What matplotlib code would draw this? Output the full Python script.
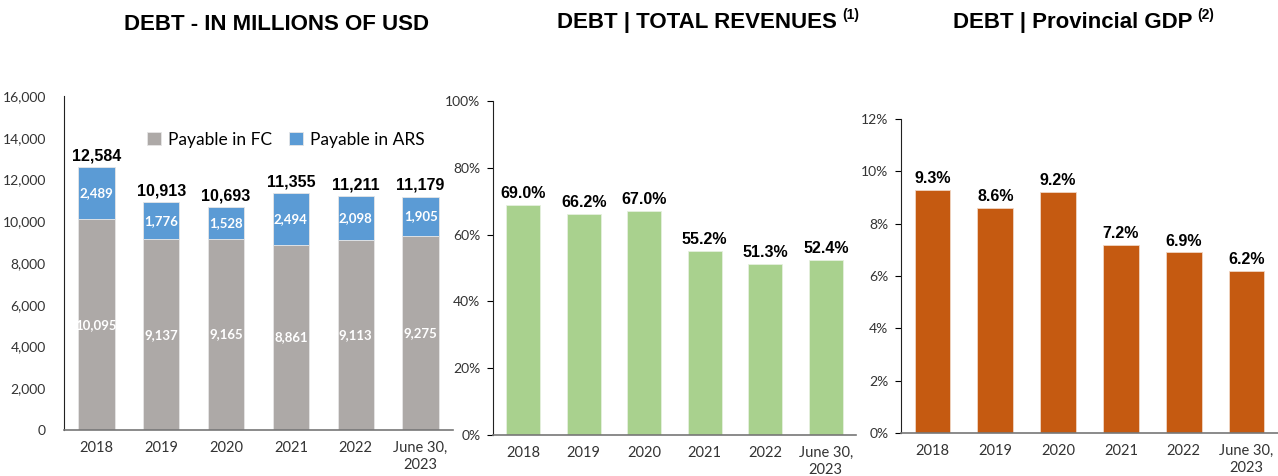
import matplotlib.pyplot as plt
import numpy as np

# Datos
categorias = ["2018", "2019", "2020", "2021", "2022", "June 30,\n2023"]
deuda_fc = [10095, 9137, 9165, 8861, 9113, 9275]
deuda_ars = [2489, 1776, 1528, 2494, 2098, 1905]
deuda_total = [12584, 10913, 10693, 11355, 11211, 11179]
deuda_ingresos = [69.0, 66.2, 67.0, 55.2, 51.3, 52.4]
deuda_pbg = [9.3, 8.6, 9.2, 7.2, 6.9, 6.2]

GRIS = "#ADA9A7"
AZUL = "#5B9BD5"
VERDE = "#A9D18E"
NARANJA = "#C55A11"
TICK_FONT = "Lato"
BOLD_FONT = "Liberation Sans"

W, H = 1278, 476
fig = plt.figure(figsize=(W / 100, H / 100), dpi=100)


def crear_ejes(x0, x1, y_top, y_bot):
    return fig.add_axes([x0 / W, 1 - y_bot / H, (x1 - x0) / W, (y_bot - y_top) / H])


def estilo(ax, ticks_y=True):
    for s in ["top", "right"]:
        ax.spines[s].set_visible(False)
    ax.spines["left"].set_color("#222222")
    ax.spines["bottom"].set_color("#777777")
    ax.spines["bottom"].set_linewidth(1.2)
    ax.tick_params(axis="x", length=0, pad=8, labelsize=10.5, labelcolor="#333333")
    ax.tick_params(axis="y", length=4 if ticks_y else 0, labelsize=10,
                   labelcolor="#333333", pad=5 if ticks_y else 13)
    for lab in ax.get_xticklabels() + ax.get_yticklabels():
        lab.set_fontfamily(TICK_FONT)
        lab.set_linespacing(1.25)


x = np.arange(len(categorias))

# Panel 1: deuda en millones de USD
ax1 = crear_ejes(64, 453, 96, 430)
ax1.bar(x, deuda_fc, 0.56, color=GRIS, edgecolor="#E6E6E6", linewidth=0.6, label="Payable in FC")
ax1.bar(x, deuda_ars, 0.56, bottom=deuda_fc, color=AZUL, edgecolor="#E6E6E6",
        linewidth=0.6, label="Payable in ARS")
ax1.set_ylim(0, 16000)
ax1.set_xlim(-0.5, len(categorias) - 0.5)
ax1.set_yticks(range(0, 16001, 2000))
ax1.set_yticklabels([f"{v:,}" for v in range(0, 16001, 2000)])
ax1.set_xticks(x)
ax1.set_xticklabels(categorias)
estilo(ax1, ticks_y=False)
for i in x:
    ax1.text(i, deuda_fc[i] / 2, f"{deuda_fc[i]:,}", ha="center", va="center",
             color="white", fontsize=9.5, fontweight="bold", family=TICK_FONT)
    ax1.text(i, deuda_fc[i] + deuda_ars[i] / 2, f"{deuda_ars[i]:,}", ha="center",
             va="center", color="white", fontsize=9.5, fontweight="bold", family=TICK_FONT)
    ax1.text(i, deuda_total[i] + 180, f"{deuda_total[i]:,}", ha="center", va="bottom",
             fontsize=11.5, fontweight="bold", family=BOLD_FONT)
leg = ax1.legend(loc="upper center", bbox_to_anchor=(0.57, 0.94), ncol=2, frameon=False,
                 handlelength=0.8, handleheight=0.8, handletextpad=0.4, columnspacing=1.0,
                 prop={"family": TICK_FONT, "size": 12.5})

# Panel 2: deuda / ingresos totales
ax2 = crear_ejes(493, 856, 101, 435)
ax2.bar(x, deuda_ingresos, 0.56, color=VERDE, edgecolor="#E6F0DF", linewidth=0.6)
ax2.set_ylim(0, 100)
ax2.set_xlim(-0.5, len(categorias) - 0.5)
ax2.set_yticks(range(0, 101, 20))
ax2.set_yticklabels([f"{v}%" for v in range(0, 101, 20)])
ax2.set_xticks(x)
ax2.set_xticklabels(categorias)
estilo(ax2)
for i in x:
    ax2.text(i, deuda_ingresos[i] + 1.2, f"{deuda_ingresos[i]:.1f}%", ha="center",
             va="bottom", fontsize=11.5, fontweight="bold", family=BOLD_FONT)

# Panel 3: deuda / PBG provincial
ax3 = crear_ejes(901, 1278, 119, 433)
ax3.bar(x, deuda_pbg, 0.57, color=NARANJA, edgecolor="#F0D6C4", linewidth=0.6)
ax3.set_ylim(0, 12)
ax3.set_xlim(-0.5, len(categorias) - 0.5)
ax3.set_yticks(range(0, 13, 2))
ax3.set_yticklabels([f"{v}%" for v in range(0, 13, 2)])
ax3.set_xticks(x)
ax3.set_xticklabels(categorias)
estilo(ax3)
for i in x:
    ax3.text(i, deuda_pbg[i] + 0.15, f"{deuda_pbg[i]:.1f}%", ha="center",
             va="bottom", fontsize=11.5, fontweight="bold", family=BOLD_FONT)


# Títulos (texto principal + superíndice más pequeño)
def titulo(xc, y, texto, sup=None):
    t = fig.text(xc / W, 1 - y / H, texto, ha="center", va="baseline",
                 fontsize=16, fontweight="bold", family=BOLD_FONT)
    if sup:
        fig.canvas.draw()
        bb = t.get_window_extent()
        fig.text((bb.x1 + 5) / W, 1 - (y - 9) / H, sup, ha="left", va="baseline",
                 fontsize=10, fontweight="bold", family=BOLD_FONT)


titulo(276, 30, "DEBT - IN MILLIONS OF USD")
titulo(697, 28, "DEBT | TOTAL REVENUES", "(1)")
titulo(1073, 28, "DEBT | Provincial GDP", "(2)")

fig.savefig("out.png", dpi=100)
